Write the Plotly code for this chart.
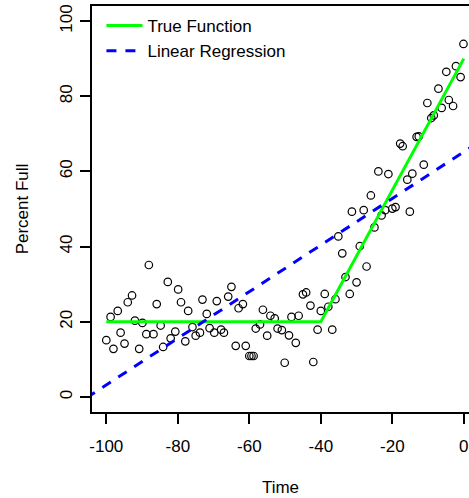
import plotly.graph_objects as go

# Observed data points (Time, Percent Full)
time_pts = [-100.0, -98.8, -98.0, -96.8, -96.0, -94.9, -94.0, -92.8, -92.0, -90.8,
            -89.9, -88.1, -88.8, -86.8, -85.9, -84.8, -84.1, -82.8, -82.0, -80.7,
            -79.9, -79.1, -77.9, -77.1, -75.9, -75.0, -73.8, -73.1, -71.9, -71.1,
            -69.8, -69.1, -67.9, -67.1, -65.9, -65.0, -63.8, -63.0, -61.8, -61.0,
            -60.0, -59.4, -58.8, -58.2, -57.0, -56.2, -55.0, -54.1, -52.9, -52.1,
            -50.9, -50.1, -48.9, -48.2, -47.0, -46.2, -45.0, -44.1, -42.9, -42.1,
            -40.9, -40.0, -38.9, -37.9, -36.8, -35.9, -35.1, -34.0, -33.1, -31.9,
            -31.3, -30.0, -29.1, -28.0, -27.2, -26.0, -25.0, -23.9, -23.0, -22.0,
            -21.1, -20.0, -19.1, -17.8, -17.1, -15.8, -15.1, -14.4, -13.2, -12.6,
            -11.2, -10.2, -9.1, -8.4, -7.1, -6.2, -4.9, -4.2, -3.0, -2.2,
            -0.9, -0.1]
pct_pts = [15.1, 21.3, 12.8, 22.9, 17.1, 14.2, 25.2, 27.0, 20.3, 12.8,
           19.7, 35.1, 16.7, 16.7, 24.7, 19.0, 13.3, 30.6, 15.6, 17.4,
           28.6, 25.2, 14.8, 22.9, 18.6, 16.3, 17.1, 25.9, 22.1, 18.3,
           17.1, 25.5, 17.9, 17.1, 26.7, 29.3, 13.6, 23.6, 24.7, 13.6,
           10.9, 10.9, 10.9, 18.2, 19.3, 23.2, 16.3, 21.6, 20.9, 18.2,
           17.8, 9.1, 16.4, 21.3, 14.4, 21.6, 27.3, 27.8, 24.3, 9.3,
           17.9, 22.9, 27.4, 24.0, 17.9, 26.0, 42.7, 38.2, 31.9, 27.4,
           49.3, 30.5, 40.1, 49.7, 34.7, 53.6, 45.1, 60.0, 48.3, 49.7,
           59.3, 50.1, 50.5, 67.4, 66.7, 57.8, 49.3, 59.4, 69.2, 69.3,
           61.8, 78.2, 74.2, 74.9, 82.0, 76.9, 86.5, 79.0, 77.4, 88.0,
           85.1, 93.9]

# True function (piecewise linear) knots
true_x = [-100, -40, 0]
true_y = [20, 20, 90]

# Linear regression line (intercept, slope)
reg_intercept = 65.2
reg_slope = 0.62
reg_x = [-110, 10]
reg_y = [reg_intercept + reg_slope * v for v in reg_x]

x_ticks = [-100, -80, -60, -40, -20, 0]
x_tick_text = ["-100", "-80", "-60", "-40", "-20", "0"]
y_ticks = [0, 20, 40, 60, 80, 100]
y_tick_text = ["0", "20", "40", "60", "80", "100"]

FONT = "Liberation Sans, Arial, sans-serif"

fig = go.Figure()
fig.add_trace(go.Scatter(
    x=time_pts, y=pct_pts, mode="markers", showlegend=False,
    marker=dict(symbol="circle-open", size=7.5, color="black", line=dict(width=1.2, color="black")),
))
fig.add_trace(go.Scatter(
    x=true_x, y=true_y, mode="lines", name="True Function",
    line=dict(color="#00FF00", width=3),
))
fig.add_trace(go.Scatter(
    x=reg_x, y=reg_y, mode="lines", name="Linear Regression",
    line=dict(color="#0000FF", width=3, dash="10px,9px"),
))

fig.update_layout(
    width=469, height=498,
    margin=dict(l=92, r=0, t=6, b=86),
    paper_bgcolor="white", plot_bgcolor="white",
    font=dict(family=FONT, size=17, color="black"),
    legend=dict(x=0.025, y=0.995, xanchor="left", yanchor="top",
                bgcolor="rgba(0,0,0,0)", borderwidth=0,
                font=dict(size=17, family=FONT), itemwidth=36,
                tracegroupgap=0),
    xaxis=dict(range=[-104, 1.45], tickvals=x_ticks, ticktext=x_tick_text,
               showgrid=False, zeroline=False, showline=True, linecolor="black",
               linewidth=1.5, mirror=True, ticks="outside", ticklen=10,
               tickcolor="black", tickwidth=1.5, ticklabelstandoff=8,
               title=dict(text="Time", standoff=26, font=dict(size=17))),
    yaxis=dict(range=[-4, 104], tickvals=y_ticks, ticktext=y_tick_text,
               showgrid=False, zeroline=False, showline=True, linecolor="black",
               linewidth=1.5, mirror=False, ticks="outside", ticklen=10,
               tickcolor="black", tickwidth=1.5, tickangle=-90, ticklabelstandoff=1,
               title=dict(text="Percent Full", standoff=25, font=dict(size=17))),
)

fig.write_html(
    "out.html",
    config={"displayModeBar": False},
    post_script="document.body.style.margin='0px';document.body.style.overflow='hidden';",
)
